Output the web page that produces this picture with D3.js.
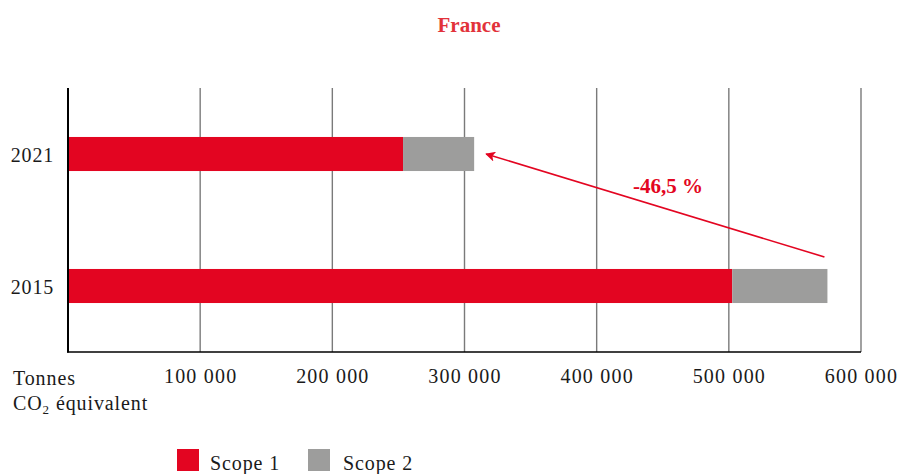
<!DOCTYPE html>
<html>
<head>
<meta charset="utf-8">
<script src="https://cdn.jsdelivr.net/npm/d3@7"></script>
<style>
  html, body { margin: 0; padding: 0; background: #fff; }
  svg { display: block; }
  text { font-family: "Liberation Serif", "DejaVu Serif", serif; }
</style>
</head>
<body>
<svg id="chart" width="899" height="474"></svg>
<script>
const years = ["2021", "2015"];
const scope1 = [253500, 502600];
const scope2 = [53800, 72000];
const tickValues = [100000, 200000, 300000, 400000, 500000, 600000];
const seriesNames = ["Scope 1", "Scope 2"];
const changeLabel = "-46,5 %";
const title = "France";

const colors = ["#e30521", "#9d9d9c"];
const textColor = "#1a1a1a";
const svg = d3.select("#chart");

const x = d3.scaleLinear().domain([0, 600000]).range([68, 861]);
const y = d3.scaleBand().domain(years).range([88, 352]).paddingInner(0.742).paddingOuter(0.371);

// title
svg.append("text").attr("x", 469).attr("y", 32).attr("text-anchor", "middle")
  .attr("font-size", 21).attr("font-weight", "bold").attr("fill", "#e2323a").text(title);

// gridlines
svg.append("g").selectAll("line").data(tickValues).join("line")
  .attr("x1", d => x(d)).attr("x2", d => x(d))
  .attr("y1", 88).attr("y2", 352)
  .attr("stroke", "#7a7a7a").attr("stroke-width", 1.4);

// bars
const data = years.map((yr, i) => ({ yr, s1: scope1[i], s2: scope2[i] }));
const g = svg.append("g");
data.forEach(d => {
  g.append("rect").attr("x", x(0)).attr("y", y(d.yr))
    .attr("width", x(d.s1) - x(0)).attr("height", y.bandwidth()).attr("fill", colors[0]);
  g.append("rect").attr("x", x(d.s1)).attr("y", y(d.yr))
    .attr("width", x(d.s1 + d.s2) - x(d.s1)).attr("height", y.bandwidth()).attr("fill", colors[1]);
});

// axes lines
svg.append("line").attr("x1", x(0)).attr("x2", x(0)).attr("y1", 88).attr("y2", 352.5)
  .attr("stroke", "#000").attr("stroke-width", 2);
svg.append("line").attr("x1", x(0) - 1).attr("x2", x(600000)).attr("y1", 352).attr("y2", 352)
  .attr("stroke", "#000").attr("stroke-width", 1.6);

// x tick labels
const fmt = v => d3.format(",")(v).replace(/,/g, " ");
const xAxis = d3.axisBottom(x).tickValues(tickValues).tickSize(0).tickPadding(0).tickFormat(fmt);
const ax = svg.append("g").attr("transform", "translate(0,367)").call(xAxis);
ax.select(".domain").remove();
ax.selectAll("text").attr("font-size", 20).attr("fill", textColor).attr("letter-spacing", 1.2)
  .attr("font-family", "Liberation Serif, serif").attr("dy", "0.8em");

// y labels
svg.append("g").selectAll("text").data(years).join("text")
  .attr("x", 54).attr("y", d => y(d) + y.bandwidth() / 2).attr("dy", "0.38em")
  .attr("text-anchor", "end").attr("font-size", 20).attr("letter-spacing", 0.8)
  .attr("fill", textColor).text(d => d);

// unit label
const unit = svg.append("text").attr("x", 13).attr("y", 385).attr("font-size", 20)
  .attr("letter-spacing", 0.9).attr("fill", textColor);
unit.append("tspan").text("Tonnes");
const l2 = svg.append("text").attr("x", 13).attr("y", 410).attr("font-size", 20)
  .attr("letter-spacing", 0.9).attr("fill", textColor);
l2.append("tspan").text("CO");
l2.append("tspan").attr("font-size", 13).attr("dy", 4).text("2");
l2.append("tspan").attr("dy", -4).text(" équivalent");

// arrow
const defs = svg.append("defs");
defs.append("marker").attr("id", "ah").attr("viewBox", "0 0 10 10")
  .attr("refX", 9).attr("refY", 5).attr("markerWidth", 13).attr("markerHeight", 10)
  .attr("markerUnits", "userSpaceOnUse").attr("orient", "auto")
  .append("path").attr("d", "M0,0 L10,5 L0,10 L2.5,5 Z").attr("fill", colors[0]);
const tot = data.map(d => d.s1 + d.s2);
const tail = [x(tot[1]) - 3, y("2015") - 12];
const tip = [x(tot[0]) + 12, y("2021") + y.bandwidth() / 2];
svg.append("line").attr("x1", tail[0]).attr("y1", tail[1]).attr("x2", tip[0]).attr("y2", tip[1])
  .attr("stroke", colors[0]).attr("stroke-width", 1.6).attr("marker-end", "url(#ah)");
svg.append("text").attr("x", 668).attr("y", 193).attr("text-anchor", "middle")
  .attr("font-size", 21).attr("font-weight", "bold").attr("fill", colors[0]).text(changeLabel);

// legend
const lg = svg.append("g");
seriesNames.forEach((n, i) => {
  const lx = 177 + i * 131;
  lg.append("rect").attr("x", lx).attr("y", 449).attr("width", 22).attr("height", 22).attr("fill", colors[i]);
  lg.append("text").attr("x", lx + 33 + i * 2).attr("y", 470).attr("font-size", 20)
    .attr("letter-spacing", 0.9).attr("fill", textColor).text(n);
});
</script>
</body>
</html>
